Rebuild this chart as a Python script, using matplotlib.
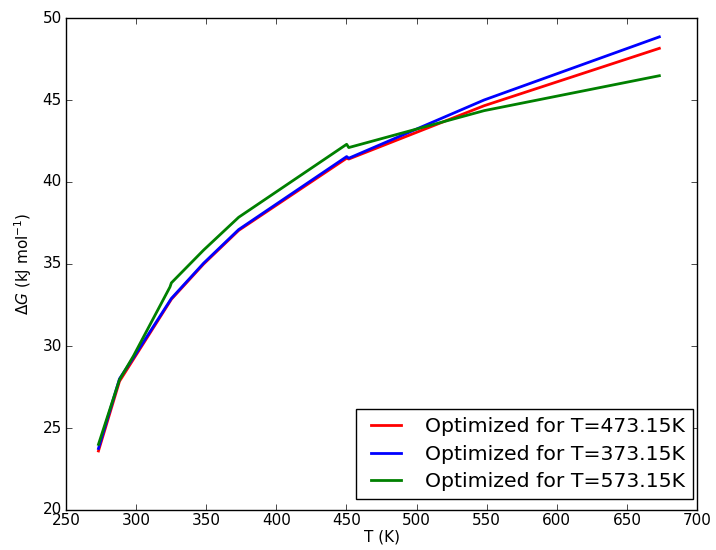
import matplotlib
matplotlib.use("Agg")
import matplotlib.pyplot as plt

plt.style.use("classic")
plt.rcParams["mathtext.fontset"] = "dejavusans"
plt.rcParams["font.family"] = ["DejaVu Sans"]
plt.rcParams["xtick.labelsize"] = 11
plt.rcParams["ytick.labelsize"] = 11
plt.rcParams["axes.labelsize"] = 11
plt.rcParams["xtick.major.pad"] = 2
plt.rcParams["ytick.major.pad"] = 3

T_red = [273.15, 288.15, 298.15, 325.15, 348.15, 373.15, 450.15, 451.65, 548.15, 673.15]
dG_red = [23.6, 27.85, 29.2, 32.85, 35.0, 37.05, 41.45, 41.4, 44.65, 48.15]

T_blue = [273.15, 288.15, 298.15, 325.15, 348.15, 373.15, 450.15, 451.65, 548.15, 673.15]
dG_blue = [23.75, 28.0, 29.3, 32.9, 35.05, 37.1, 41.55, 41.45, 45.0, 48.85]

T_green = [273.15, 288.15, 298.15, 324.15, 325.15, 348.15, 373.15, 450.15, 451.65, 548.15, 673.15]
dG_green = [24.0, 27.95, 29.4, 33.6, 33.85, 35.85, 37.85, 42.3, 42.1, 44.35, 46.48]

labels = ["Optimized for T=473.15K", "Optimized for T=373.15K", "Optimized for T=573.15K"]

fig = plt.figure(figsize=(7.16, 5.5), dpi=100, facecolor="white")
ax = fig.add_axes([66/716, 1 - 510/550, (697 - 66)/716, (510 - 18)/550])
ax.plot(T_red, dG_red, color="r", lw=2, label=labels[0])
ax.plot(T_blue, dG_blue, color="b", lw=2, label=labels[1])
ax.plot(T_green, dG_green, color="g", lw=2, label=labels[2])

ax.set_xlim(250, 700)
ax.set_ylim(20, 50)
ax.set_xlabel("T (K)", labelpad=1)
ax.set_ylabel(r"$\Delta G$ (kJ mol$^{-1}$)", labelpad=6)
ax.legend(loc="lower right", fontsize=14.7, handlelength=2.1, handletextpad=0.85,
          borderaxespad=0, labelspacing=0.4,
          bbox_to_anchor=(693/716, 1 - 499/550), bbox_transform=fig.transFigure)

fig.savefig("out.png", dpi=100, facecolor="white")
